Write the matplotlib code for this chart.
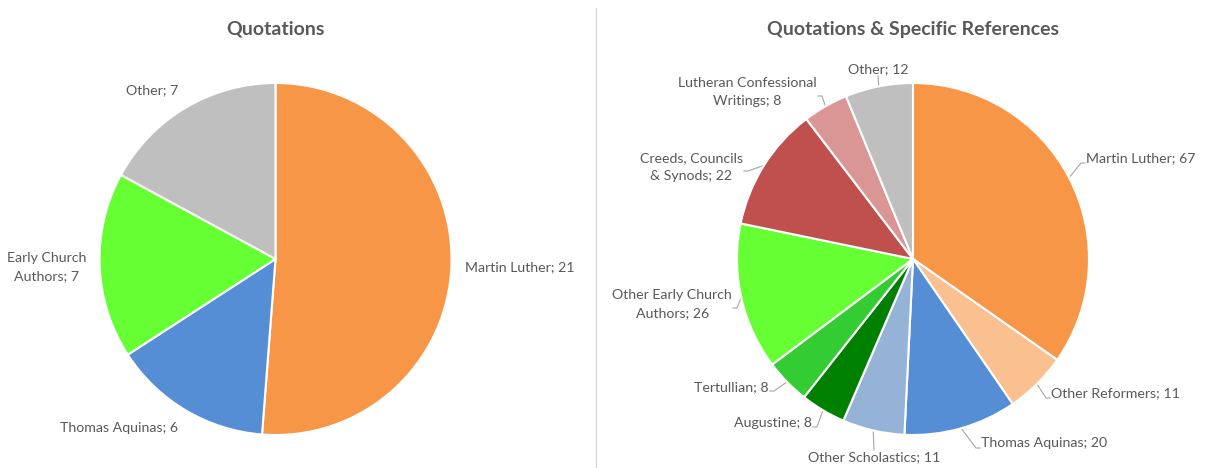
import numpy as np
import matplotlib.pyplot as plt

W, H = 1206, 468
R = 176  # pie radius in pixels

# left chart: quotations
left_names = ["Martin Luther", "Thomas Aquinas", "Early Church\nAuthors", "Other"]
left_values = [21, 6, 7, 7]
left_colors = ["#F79646", "#558ED5", "#66FF33", "#BFBFBF"]

# right chart: quotations & specific references
right_names = ["Martin Luther", "Other Reformers", "Thomas Aquinas", "Other Scholastics",
               "Augustine", "Tertullian", "Other Early Church\nAuthors",
               "Creeds, Councils\n& Synods", "Lutheran Confessional\nWritings", "Other"]
right_values = [67, 11, 20, 11, 8, 8, 26, 22, 8, 12]
right_colors = ["#F79646", "#FAC090", "#558ED5", "#95B3D7", "#008000",
                "#33CC33", "#66FF33", "#C0504D", "#D99694", "#BFBFBF"]

# label layout (pixel coords, y measured from top), placed by hand like in the original
left_label_pos = [(465, 267, "left"), (178, 428, "right"), (86, 267, "right"), (178, 90, "right")]
right_label_pos = [(1086, 158, "left"), (1051, 393, "left"), (981, 443, "left"),
                   (874, 457, "center"), (812, 423, "right"), (769, 387, "right"),
                   (732, 304, "right"), (743, 167, "right"), (817, 92, "right"),
                   (878, 69, "center")]

TEXT_COLOR = "#595959"
FONT = "Lato"


def draw_pie(ax, cx, cy, values, names, colors, label_pos, title, leaders):
    cy_up = H - cy
    wedges, _ = ax.pie(values, colors=colors, startangle=90, counterclock=False,
                       center=(cx, cy_up), radius=R,
                       wedgeprops=dict(edgecolor="white", linewidth=1.5))
    ax.text(cx, H - 29, title, ha="center", va="center", fontsize=14,
            fontweight="bold", color=TEXT_COLOR, family=FONT)

    for w, v, name, (lx, ly, ha) in zip(wedges, values, names, label_pos):
        ax.text(lx, H - ly, f"{name}; {v}", ha=ha, va="center", fontsize=10.2,
                color=TEXT_COLOR, family=FONT, multialignment="center",
                linespacing=1.65)
        if not leaders:
            continue
        mid = np.deg2rad((w.theta1 + w.theta2) / 2)
        ex, ey = cx + R * np.cos(mid), cy_up + R * np.sin(mid)
        if ha == "left":
            pts = [(ex, ey), (lx - 5, H - ly - 5), (lx - 1, H - ly - 5)]
        elif ha == "right":
            pts = [(ex, ey), (lx + 5, H - ly - 4), (lx + 1, H - ly - 4)]
        else:
            side = 7 if ey > H - ly else -7
            pts = [(ex, ey), (lx, H - ly + side)]
        xs, ys = zip(*pts)
        ax.plot(xs, ys, color="#A6A6A6", linewidth=0.8, zorder=0)


fig = plt.figure(figsize=(W / 100, H / 100), dpi=100)
ax = fig.add_axes([0, 0, 1, 1])

draw_pie(ax, 275.5, 259, left_values, left_names, left_colors, left_label_pos,
         "Quotations", leaders=False)
draw_pie(ax, 913, 259, right_values, right_names, right_colors, right_label_pos,
         "Quotations & Specific References", leaders=True)

# thin divider between the two charts
ax.plot([596, 596], [0, H - 8], color="#D9D9D9", linewidth=1)

ax.set_xlim(0, W)
ax.set_ylim(0, H)
ax.set_aspect("equal")
ax.axis("off")

fig.savefig("out.png", dpi=100)
